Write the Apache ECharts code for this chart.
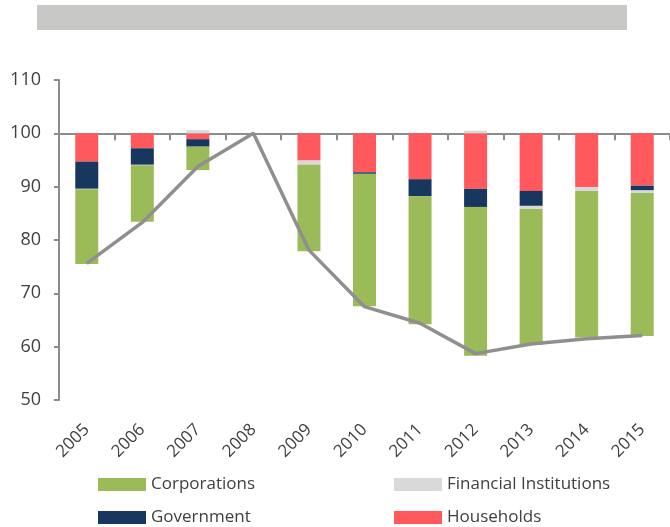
<!DOCTYPE html>
<html>
<head>
<meta charset="utf-8">
<script src="https://cdn.jsdelivr.net/npm/echarts@6/dist/echarts.min.js"></script>
<style>
	html, body { margin: 0; padding: 0; background: #fff; }
	#container { width: 670px; height: 527px; }
</style>
</head>
<body>
<div id="container"></div>
<script>
// years on the x axis
var years = ['2005', '2006', '2007', '2008', '2009', '2010', '2011', '2012', '2013', '2014', '2015'];
// index, 2008 = 100 (grey line)
var indexLine = [75.6, 83.3, 93.8, 100, 78.1, 67.5, 64.4, 58.7, 60.5, 61.5, 62.1];
// contributions to the gap with 100, by sector
var households = [-5.3, -2.8, -1.1, 0, -5.1, -7.3, -8.6, -10.4, -10.8, -10.1, -9.8];
var government = [-5.1, -3.1, -1.4, 0, 0, -0.3, -3.2, -3.4, -2.8, 0, -0.9];
var financial = [-0.1, -0.1, 0.6, 0, -0.8, 0, 0, 0.5, -0.6, -0.7, -0.5];
var corporations = [-14.0, -10.6, -4.4, 0, -16.2, -24.8, -24.0, -27.9, -25.5, -27.5, -26.8];
var yTicks = [50, 60, 70, 80, 90, 100, 110];

var BASE = 100; // bars hang from this level

var dom = document.getElementById('container');
var myChart = echarts.init(dom);

var txt = '#404040';
var fontName = 'Open Sans';

function barSeries(name, data, color) {
	return {
		name: name,
		type: 'bar',
		stack: 'total',
		barWidth: 23,
		xAxisIndex: 0,
		itemStyle: { color: color },
		data: data
	};
}

// one legend per entry, laid out as 2 x 2
function legendItem(name, left, top) {
	return {
		left: left, top: top,
		itemWidth: 48, itemHeight: 13,
		icon: 'rect',
		padding: 0,
		textStyle: { fontSize: 17, color: txt, fontFamily: fontName },
		data: [name]
	};
}

var option = {
	animation: false,
	textStyle: { fontFamily: fontName },
	graphic: [{
		type: 'rect',
		shape: { x: 37, y: 5, width: 590, height: 25 },
		style: { fill: '#C8C8C6' }
	}],
	grid: { left: 59, top: 80, width: 615, height: 320 },
	legend: [
		legendItem('Corporations', 98, 476),
		legendItem('Financial Institutions', 394, 476),
		legendItem('Government', 98, 509),
		legendItem('Households', 394, 509)
	],
	xAxis: [{
		type: 'category',
		data: years,
		position: 'bottom',
		axisLine: { show: false, onZero: false },
		axisTick: { show: false },
		axisLabel: { rotate: 45, fontSize: 17, color: txt, margin: 27, interval: 0 }
	}, {
		// the line at 100 with its tick marks
		type: 'category',
		data: years,
		position: 'bottom',
		axisLine: { show: true, onZero: true, lineStyle: { color: '#8C8C8C', width: 2 } },
		axisTick: { show: true, length: 7, lineStyle: { color: '#8C8C8C', width: 2 } },
		axisLabel: { show: false }
	}],
	yAxis: {
		type: 'value',
		min: yTicks[0] - BASE,
		max: yTicks[yTicks.length - 1] - BASE,
		interval: 10,
		splitLine: { show: false },
		axisLine: { show: true, lineStyle: { color: '#8C8C8C', width: 2 } },
		axisTick: { show: true, length: 5, lineStyle: { color: '#8C8C8C', width: 2 } },
		axisLabel: {
			fontSize: 18, color: txt, margin: 18,
			formatter: function(v) { return v + BASE; }
		}
	},
	series: [
		barSeries('Households', households, '#FF585D'),
		barSeries('Government', government, '#17375E'),
		barSeries('Financial Institutions', financial, '#D9D9D9'),
		barSeries('Corporations', corporations, '#9BBB59'),
		{
			name: 'Index',
			type: 'line',
			xAxisIndex: 0,
			symbol: 'none',
			z: 5,
			lineStyle: { color: '#8F8F8F', width: 3.5 },
			data: indexLine.map(function(v) { return +(v - BASE).toFixed(2); })
		}
	]
};

myChart.setOption(option, true);
</script>
</body>
</html>
